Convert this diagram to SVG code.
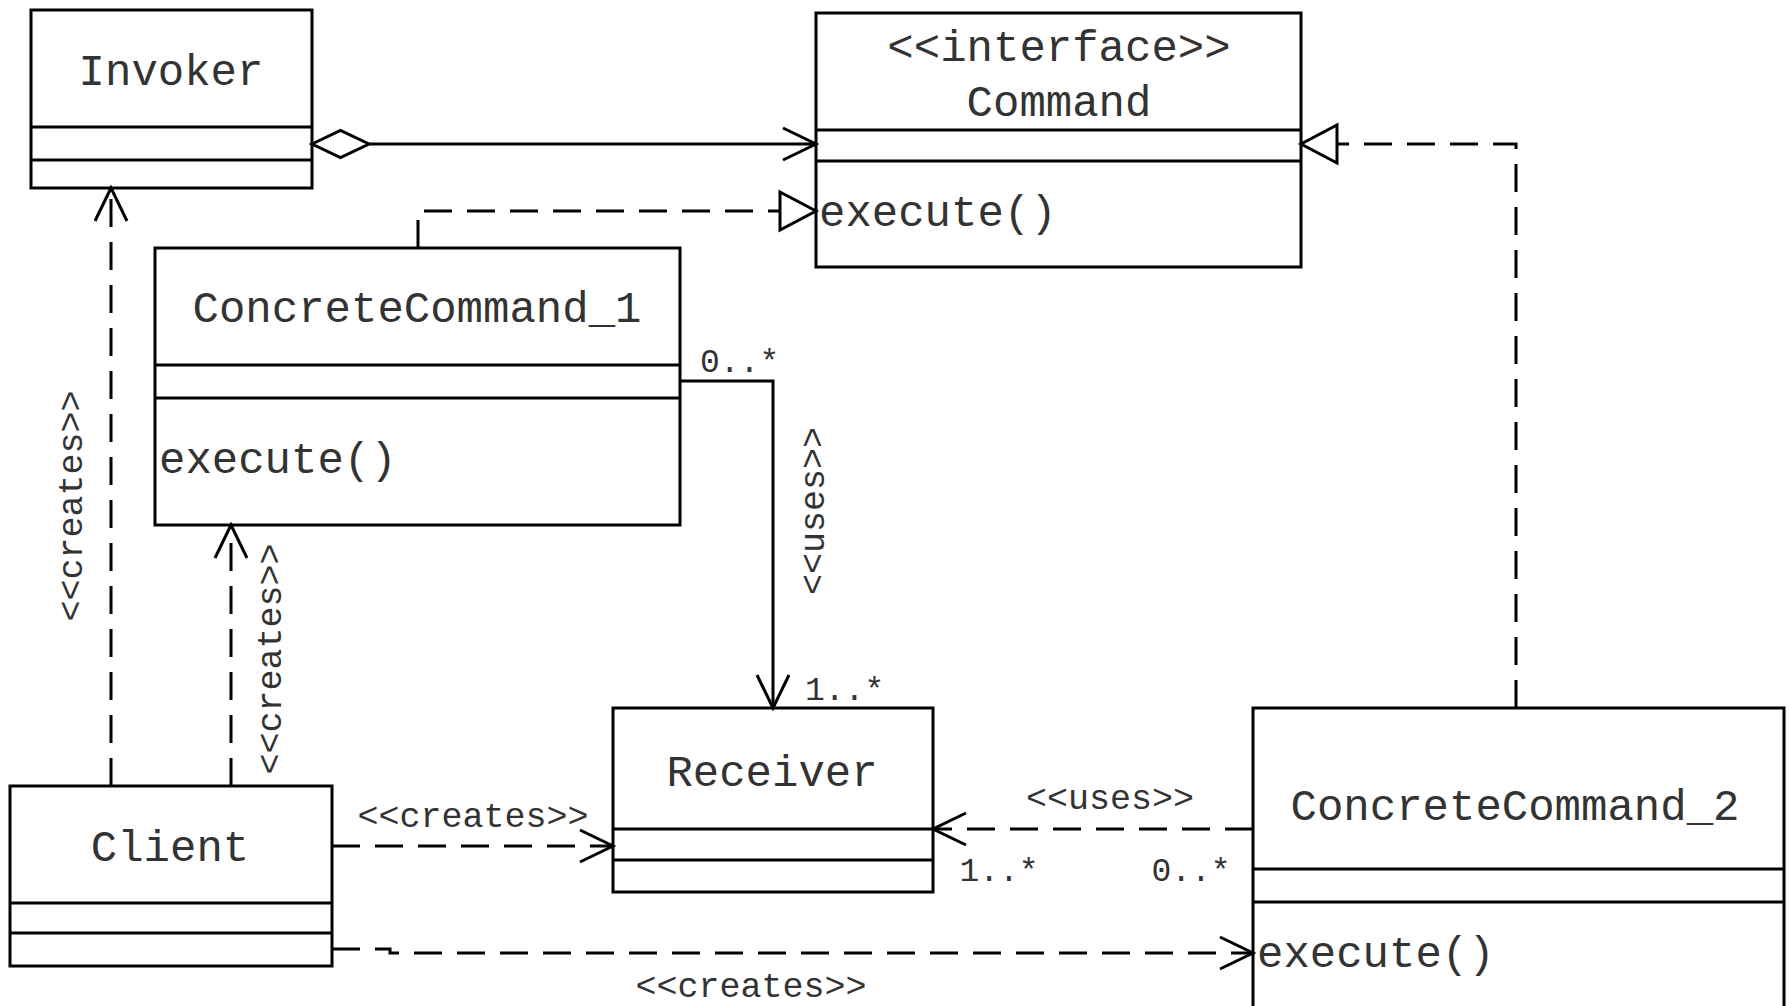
<svg xmlns="http://www.w3.org/2000/svg" width="1789" height="1006" viewBox="0 0 1789 1006">
<style>
.box{fill:#fff;stroke:#000;stroke-width:3}
.div{stroke:#000;stroke-width:3;fill:none}
.cn{font-family:"Liberation Mono","Courier New",monospace;font-size:44px;fill:#333}
.lb{font-family:"Liberation Mono","Courier New",monospace;font-size:35px;fill:#333}
.ml{font-family:"Liberation Mono","Courier New",monospace;font-size:33px;fill:#333}
.solid{fill:none;stroke:#000;stroke-width:3}
.dash{fill:none;stroke:#000;stroke-width:3;stroke-dasharray:28 15}
</style>
<defs>
<marker id="open" markerUnits="userSpaceOnUse" orient="auto" refX="0" refY="0" markerWidth="40" markerHeight="40" overflow="visible">
<path d="M-33,-16 L0,0 L-33,16" fill="none" stroke="#000" stroke-width="3"/>
</marker>
<marker id="tri" markerUnits="userSpaceOnUse" orient="auto" refX="0" refY="0" markerWidth="40" markerHeight="40" overflow="visible">
<path d="M-36,-19 L0,0 L-36,19 Z" fill="#fff" stroke="#000" stroke-width="3"/>
</marker>
<marker id="dia" markerUnits="userSpaceOnUse" orient="auto" refX="0" refY="0" markerWidth="60" markerHeight="30" overflow="visible">
<path d="M0,0 L28.5,-13.5 L57,0 L28.5,13.5 Z" fill="#fff" stroke="#000" stroke-width="3"/>
</marker>
</defs>
<rect width="1789" height="1006" fill="#fff"/>

<g id="Invoker">
<rect class="box" x="31" y="10" width="281" height="178"/>
<line class="div" x1="31" y1="127" x2="312" y2="127"/>
<line class="div" x1="31" y1="160" x2="312" y2="160"/>
<text class="cn" x="171" y="85" text-anchor="middle">Invoker</text>
</g>

<g id="Command">
<rect class="box" x="816" y="13" width="485" height="254"/>
<line class="div" x1="816" y1="130" x2="1301" y2="130"/>
<line class="div" x1="816" y1="161" x2="1301" y2="161"/>
<text class="cn" x="1059" y="61" text-anchor="middle">&lt;&lt;interface&gt;&gt;</text>
<text class="cn" x="1059" y="116" text-anchor="middle">Command</text>
<text class="cn" x="819" y="226">execute()</text>
</g>

<g id="ConcreteCommand_1">
<rect class="box" x="155" y="248" width="525" height="277"/>
<line class="div" x1="155" y1="365" x2="680" y2="365"/>
<line class="div" x1="155" y1="398" x2="680" y2="398"/>
<text class="cn" x="417" y="322" text-anchor="middle">ConcreteCommand_1</text>
<text class="cn" x="159" y="473">execute()</text>
</g>

<g id="Receiver">
<rect class="box" x="613" y="708" width="320" height="184"/>
<line class="div" x1="613" y1="829" x2="933" y2="829"/>
<line class="div" x1="613" y1="860" x2="933" y2="860"/>
<text class="cn" x="772" y="786" text-anchor="middle">Receiver</text>
</g>

<g id="Client">
<rect class="box" x="10" y="786" width="322" height="180"/>
<line class="div" x1="10" y1="903" x2="332" y2="903"/>
<line class="div" x1="10" y1="933" x2="332" y2="933"/>
<text class="cn" x="170" y="861" text-anchor="middle">Client</text>
</g>

<g id="ConcreteCommand_2">
<rect class="box" x="1253" y="708" width="531" height="330"/>
<line class="div" x1="1253" y1="869" x2="1784" y2="869"/>
<line class="div" x1="1253" y1="902" x2="1784" y2="902"/>
<text class="cn" x="1515" y="820" text-anchor="middle">ConcreteCommand_2</text>
<text class="cn" x="1257" y="967">execute()</text>
</g>

<g id="connectors">
<path class="solid" d="M312,144 H816" marker-start="url(#dia)" marker-end="url(#open)"/>
<path class="dash" d="M418,248 V211 H816" marker-end="url(#tri)"/>
<path class="dash" d="M1516,708 V144 H1301" marker-end="url(#tri)"/>
<path class="solid" d="M680,381 H773 V708" marker-end="url(#open)"/>
<path class="dash" d="M111,786 V188" marker-end="url(#open)"/>
<path class="dash" d="M231,786 V525" marker-end="url(#open)"/>
<path class="dash" d="M332,846 H613" marker-end="url(#open)"/>
<path class="dash" d="M1253,829 H933" marker-end="url(#open)"/>
<path class="dash" d="M332,949 H390 V953 H1253" marker-end="url(#open)"/>

<text class="ml" x="700" y="372">0..*</text>
<text class="ml" x="805" y="700">1..*</text>
<text class="lb" transform="translate(824,511) rotate(-90)" text-anchor="middle">&lt;&lt;uses&gt;&gt;</text>
<text class="lb" transform="translate(82,506) rotate(-90)" text-anchor="middle">&lt;&lt;creates&gt;&gt;</text>
<text class="lb" transform="translate(281,659) rotate(-90)" text-anchor="middle">&lt;&lt;creates&gt;&gt;</text>
<text class="lb" x="473" y="827" text-anchor="middle">&lt;&lt;creates&gt;&gt;</text>
<text class="lb" x="1110" y="809" text-anchor="middle">&lt;&lt;uses&gt;&gt;</text>
<text class="ml" x="999" y="881" text-anchor="middle">1..*</text>
<text class="ml" x="1191" y="881" text-anchor="middle">0..*</text>
<text class="lb" x="751" y="997" text-anchor="middle">&lt;&lt;creates&gt;&gt;</text>
</g>
</svg>
